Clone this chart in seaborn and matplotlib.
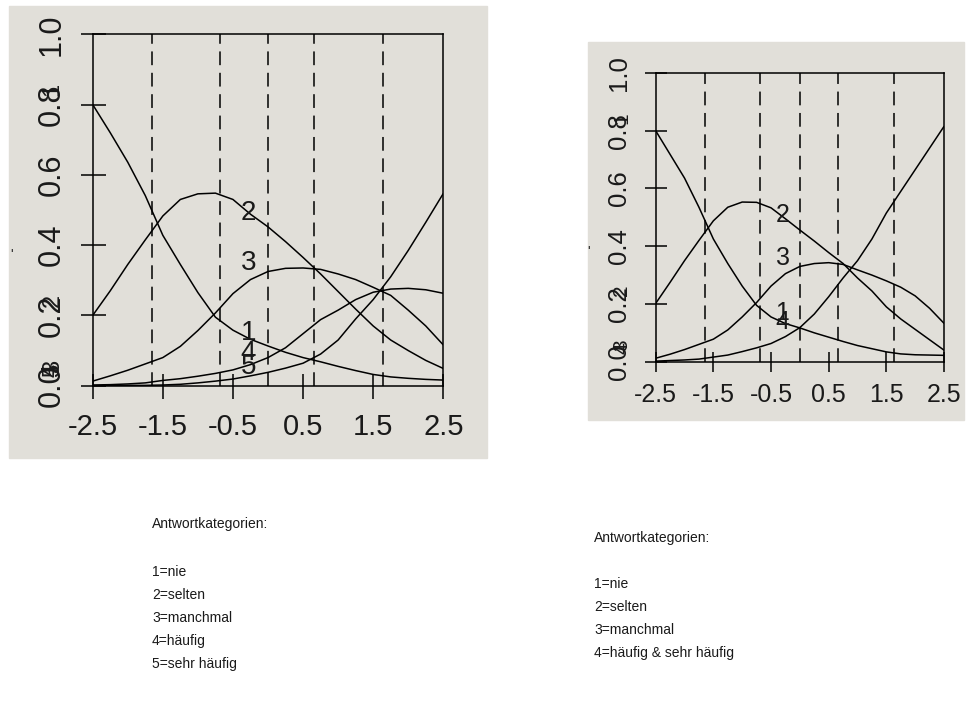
import numpy as np
import pandas as pd
import matplotlib
matplotlib.use("Agg")
import matplotlib.pyplot as plt
import seaborn as sns
from matplotlib.patches import Rectangle

# ---- data -------------------------------------------------------------
theta = [-2.5, -2.25, -2.0, -1.75, -1.5, -1.25, -1.0, -0.75, -0.5, -0.25, 0.0,
         0.25, 0.5, 0.75, 1.0, 1.25, 1.5, 1.75, 2.0, 2.25, 2.5]

# five response categories
nie_5 = [0.800, 0.720, 0.636, 0.541, 0.428, 0.345, 0.265, 0.195, 0.158, 0.132, 0.113,
         0.095, 0.080, 0.068, 0.055, 0.043, 0.032, 0.025, 0.021, 0.018, 0.016]
selten_5 = [0.200, 0.270, 0.345, 0.415, 0.483, 0.530, 0.546, 0.548, 0.530, 0.488, 0.452,
            0.410, 0.365, 0.318, 0.268, 0.218, 0.170, 0.130, 0.100, 0.072, 0.049]
manchmal_5 = [0.013, 0.028, 0.044, 0.062, 0.080, 0.112, 0.157, 0.207, 0.262, 0.302, 0.325,
              0.334, 0.335, 0.331, 0.318, 0.302, 0.280, 0.257, 0.215, 0.170, 0.116]
haeufig_5 = [0.002, 0.003, 0.005, 0.008, 0.015, 0.020, 0.027, 0.035, 0.045, 0.060, 0.080,
             0.108, 0.148, 0.188, 0.215, 0.245, 0.266, 0.275, 0.277, 0.273, 0.263]
sehr_haeufig_5 = [0.000, 0.000, 0.001, 0.001, 0.002, 0.004, 0.008, 0.013, 0.019, 0.028, 0.038,
                  0.050, 0.064, 0.090, 0.130, 0.190, 0.245, 0.310, 0.385, 0.465, 0.547]

# four response categories (last two merged)
nie_4 = [0.800, 0.718, 0.636, 0.535, 0.425, 0.340, 0.262, 0.195, 0.155, 0.132, 0.117,
         0.100, 0.085, 0.070, 0.056, 0.045, 0.034, 0.027, 0.024, 0.023, 0.022]
selten_4 = [0.202, 0.275, 0.350, 0.420, 0.488, 0.535, 0.553, 0.552, 0.533, 0.495, 0.456,
            0.418, 0.378, 0.340, 0.290, 0.245, 0.190, 0.148, 0.112, 0.076, 0.040]
manchmal_4 = [0.012, 0.026, 0.042, 0.060, 0.078, 0.110, 0.155, 0.205, 0.262, 0.305, 0.330,
              0.340, 0.343, 0.337, 0.318, 0.300, 0.280, 0.258, 0.228, 0.185, 0.133]
haeufig_4 = [0.002, 0.004, 0.006, 0.009, 0.016, 0.023, 0.035, 0.048, 0.063, 0.087, 0.118,
             0.165, 0.225, 0.290, 0.350, 0.425, 0.515, 0.590, 0.665, 0.740, 0.815]

# category thresholds (dashed lines)
thresholds = [-1.65, -0.685, 0.0, 0.66, 1.635]

# curve numbers written inside the plots
labels_5 = ["2", "3", "1", "4", "5"]
label_y_5 = [0.491, 0.349, 0.150, 0.093, 0.053]
label_x_5 = -0.28
labels_4 = ["2", "3", "1", "4"]
label_y_4 = [0.508, 0.358, 0.168, 0.139]
label_x_4 = -0.30

xtick_values = [-2.5, -1.5, -0.5, 0.5, 1.5, 2.5]
xtick_labels = ["-2.5", "-1.5", "-0.5", "0.5", "1.5", "2.5"]
ytick_values = [0.0, 0.2, 0.4, 0.6, 0.8, 1.0]
ytick_labels = ["0.0", "0.2", "0.4", "0.6", "0.8", "1.0"]

legend_5 = ["Antwortkategorien:", "", "1=nie", "2=selten", "3=manchmal",
            "4=häufig", "5=sehr häufig"]
legend_4 = ["Antwortkategorien:", "", "1=nie", "2=selten", "3=manchmal",
            "4=häufig & sehr häufig"]

# ---- style ------------------------------------------------------------
sns.set_style("white")
plt.rcParams["font.family"] = ["Liberation Sans", "DejaVu Sans"]
PANEL = "#e1dfd9"
W, H = 969, 706

fig = plt.figure(figsize=(W / 100, H / 100), dpi=100)
fig.patch.set_facecolor("white")


def px_rect(x0, y0, x1, y1):
    """Figure-fraction rectangle from pixel corners (origin top-left)."""
    return [x0 / W, 1 - y1 / H, (x1 - x0) / W, (y1 - y0) / H]


def long_frame(curves, names):
    rows = []
    for name, vals in zip(names, curves):
        rows.append(pd.DataFrame({"theta": theta, "p": vals, "kat": name}))
    return pd.concat(rows, ignore_index=True)


def draw_panel(ax, df, n, cats_start, lab, lab_y, lab_x, xtick_fs, ytick_fs,
               lab_fs, ticklen_x, ticklen_y, pad_x, pad_y, edge_off):
    ax.set_facecolor(PANEL)
    sns.lineplot(data=df, x="theta", y="p", hue="kat", palette=["black"] * n,
                 legend=False, ax=ax, linewidth=1.1, errorbar=None)
    for t in thresholds:
        ax.axvline(t, color="black", lw=1.1, ls=(0, (9, 5)))
    ax.set_xlim(-2.5, 2.5)
    ax.set_ylim(0, 1)
    ax.set_xlabel("")
    ax.set_ylabel("")
    ax.set_xticks(xtick_values)
    ax.set_xticklabels(xtick_labels, fontsize=xtick_fs)
    ax.set_yticks(ytick_values)
    ax.set_yticklabels(ytick_labels, fontsize=ytick_fs, rotation=90, va="center")
    ax.tick_params(axis="x", bottom=True, top=False, direction="inout",
                   length=ticklen_x, width=1.1, pad=pad_x, colors="black",
                   labelcolor="#1a1a1a")
    ax.tick_params(axis="y", left=True, right=False, direction="inout",
                   length=ticklen_y, width=1.1, pad=pad_y, colors="black",
                   labelcolor="#1a1a1a")
    for sp in ax.spines.values():
        sp.set_visible(True)
        sp.set_color("black")
        sp.set_linewidth(1.1)
    for s, y in zip(lab, lab_y):
        ax.text(lab_x, y, s, ha="center", va="center", fontsize=lab_fs,
                color="#1a1a1a")
    # curve numbers at the left end of each curve, written along the axis
    for i, y0 in enumerate(cats_start):
        ax.annotate(str(i + 1), xy=(-2.5, y0), xytext=edge_off,
                    textcoords="offset pixels", rotation=90, ha="center",
                    va="center", fontsize=lab_fs - 3, color="#1a1a1a",
                    annotation_clip=False)


# panel backgrounds, kept behind the axes
fig.patches.append(Rectangle((9 / W, 1 - 458 / H), 478 / W, 452 / H,
                             transform=fig.transFigure, color=PANEL, zorder=-5))
fig.patches.append(Rectangle((588 / W, 1 - 420 / H), 376 / W, 378 / H,
                             transform=fig.transFigure, color=PANEL, zorder=-5))

# left: five categories
ax1 = fig.add_axes(px_rect(92.7, 34.3, 443.3, 385.7))
curves5 = [nie_5, selten_5, manchmal_5, haeufig_5, sehr_haeufig_5]
df5 = long_frame(curves5, ["1", "2", "3", "4", "5"])
draw_panel(ax1, df5, 5, [c[0] for c in curves5], labels_5, label_y_5, label_x_5,
           xtick_fs=21, ytick_fs=22, lab_fs=20, ticklen_x=18, ticklen_y=18,
           pad_x=11, pad_y=10, edge_off=(-40, 15))

# right: four categories
ax2 = fig.add_axes(px_rect(655.7, 73.0, 944.0, 361.7))
curves4 = [nie_4, selten_4, manchmal_4, haeufig_4]
df4 = long_frame(curves4, ["1", "2", "3", "4"])
draw_panel(ax2, df4, 4, [c[0] for c in curves4], labels_4, label_y_4, label_x_4,
           xtick_fs=18, ytick_fs=18.5, lab_fs=18, ticklen_x=14, ticklen_y=16,
           pad_x=8, pad_y=10, edge_off=(-34, 13))

# small stray marks at the panel edges
fig.text(12 / W, 1 - 255 / H, "'", fontsize=10, ha="center", va="center")
fig.text(589 / W, 1 - 252 / H, "'", fontsize=10, ha="center", va="center")

# category legends below the panels
y = 524
for i, line in enumerate(legend_5):
    if line:
        fig.text(152 / W, 1 - y / H, line, fontsize=10, ha="left", va="center",
                 color="#1a1a1a")
    y += 24 if i < 2 else 23
y = 538
for i, line in enumerate(legend_4):
    if line:
        fig.text(594 / W, 1 - y / H, line, fontsize=10, ha="left", va="center",
                 color="#1a1a1a")
    y += 23

fig.savefig("out.png", dpi=100, facecolor="white")
